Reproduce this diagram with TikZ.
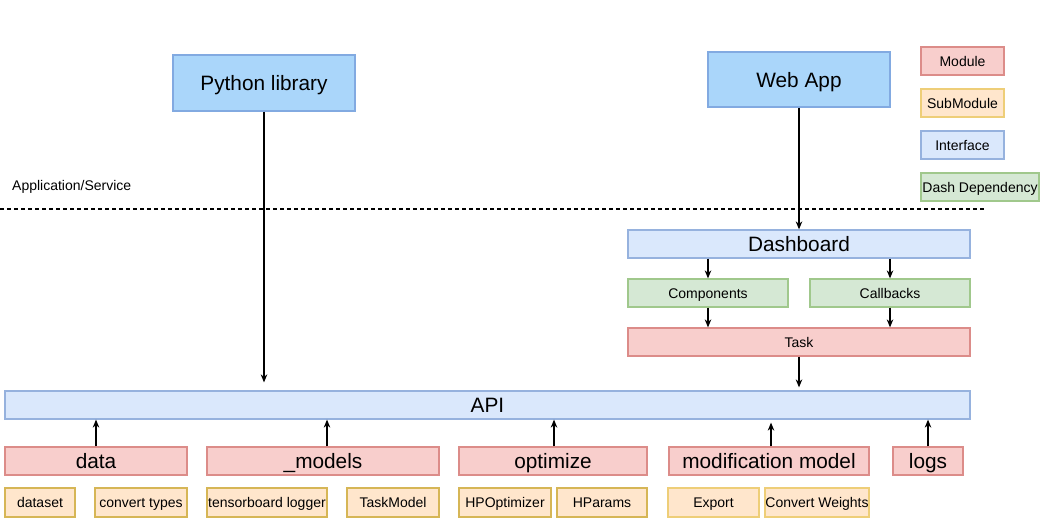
\documentclass[tikz,border=0pt]{standalone}
\usepackage{fontspec}
\setmainfont{Liberation Sans}
\usetikzlibrary{arrows.meta}
\definecolor{ifill}{RGB}{218,232,252}
\definecolor{idraw}{RGB}{150,178,222}
\definecolor{mfill}{RGB}{248,206,204}
\definecolor{mdraw}{RGB}{220,140,137}
\definecolor{sfill}{RGB}{255,230,204}
\definecolor{sdraw}{RGB}{214,182,86}
\definecolor{sdrawl}{RGB}{238,206,120}
\definecolor{gfill}{RGB}{213,232,212}
\definecolor{gdraw}{RGB}{160,200,140}
\definecolor{bfill}{RGB}{170,214,250}
\definecolor{bdraw}{RGB}{130,170,225}
\tikzset{
  box/.style={rectangle, inner sep=0pt, line width=1.2pt, text=black},
  big/.style={font=\fontsize{20.8}{24}\selectfont, text height=20pt, text depth=4.6pt},
  small/.style={font=\fontsize{14}{16}\selectfont, text height=13pt, text depth=3pt},
  app/.style={box, big, fill=bfill, draw=bdraw},
  iface/.style={box, fill=ifill, draw=idraw},
  modu/.style={box, fill=mfill, draw=mdraw},
  subm/.style={box, small, fill=sfill, draw=sdraw, minimum height=29pt},
  dashdep/.style={box, small, fill=gfill, draw=gdraw},
  conn/.style={line width=1.3pt, -{Stealth[length=8pt,width=6.5pt,inset=2.5pt]}},
}
\begin{document}
\begin{tikzpicture}[x=1pt,y=-1pt]
\useasboundingbox (0,0) rectangle (1048,531);
% top interfaces
\node[app, minimum width=182pt, minimum height=56pt] (py) at (264,83) {Python library};
\node[app, minimum width=182pt, minimum height=55pt] (web) at (799,79.5) {Web App};
% legend
\node[modu, small, minimum width=83pt, minimum height=28pt] (lmod) at (962.5,61) {Module};
\node[subm, draw=sdrawl, minimum width=83pt, minimum height=28pt] (lsub) at (962.5,103) {SubModule};
\node[iface, small, minimum width=83pt, minimum height=28pt] (lint) at (962.5,145) {Interface};
\node[dashdep, minimum width=118pt, minimum height=28pt] (ldash) at (980,187) {Dash Dependency};
% separator
\node[small, anchor=west, inner sep=0pt] (appl) at (12,185) {Application/Service};
\coordinate (sepL) at (0,209);
\coordinate (sepR) at (985,209);
\draw[line width=1.2pt, dash pattern=on 4pt off 3pt] (sepL) -- (sepR);
% dashboard block
\node[iface, big, minimum width=342pt, minimum height=28pt] (dashb) at (799,244) {Dashboard};
\node[dashdep, minimum width=160pt, minimum height=28pt] (comp) at (708,293) {Components};
\node[dashdep, minimum width=160pt, minimum height=28pt] (cb) at (890,293) {Callbacks};
\node[modu, small, minimum width=342pt, minimum height=28pt] (task) at (799,342) {Task};
% API
\node[iface, big, minimum width=965pt, minimum height=28pt] (api) at (487.5,405) {API};
% modules
\node[modu, big, minimum width=182pt, minimum height=28pt] (data) at (96,461) {data};
\node[modu, big, minimum width=232pt, minimum height=28pt] (models) at (323,461) {\_models};
\node[modu, big, minimum width=188pt, minimum height=28pt] (opt) at (553,461) {optimize};
\node[modu, big, minimum width=200pt, minimum height=28pt] (modif) at (769,461) {modification model};
\node[modu, big, minimum width=70pt, minimum height=28pt] (logs) at (928,461) {logs};
% submodules
\node[subm, minimum width=70pt] (dataset) at (40,502.5) {dataset};
\node[subm, minimum width=92pt] (ctypes) at (141,502.5) {convert types};
\node[subm, minimum width=120pt] (tblog) at (267,502.5) {tensorboard logger};
\node[subm, minimum width=92pt] (tmodel) at (393,502.5) {TaskModel};
\node[subm, minimum width=92pt] (hpopt) at (505,502.5) {HPOptimizer};
\node[subm, minimum width=90pt] (hparams) at (602,502.5) {HParams};
\node[subm, draw=sdrawl, minimum width=91pt] (export) at (713.5,502.5) {Export};
\node[subm, draw=sdrawl, minimum width=104pt] (convw) at (817,502.5) {Convert Weights};
% connectors
\draw[conn, shorten >=8pt] (py.south) -- (py.south |- api.north);
\draw[conn] (web.south) -- (dashb.north);
\draw[conn] (dashb.south -| comp.north) -- (comp.north);
\draw[conn] (dashb.south -| cb.north) -- (cb.north);
\draw[conn] (comp.south) -- (comp.south |- task.north);
\draw[conn] (cb.south) -- (cb.south |- task.north);
\draw[conn, shorten >=3pt] (task.south) -- (task.south |- api.north);
\draw[conn] (data.north) -- (data.north |- api.south);
\draw[conn] ([xshift=4pt]models.north) -- ([xshift=4pt]models.north |- api.south);
\draw[conn] ([xshift=1pt]opt.north) -- ([xshift=1pt]opt.north |- api.south);
\draw[conn, shorten >=3pt] ([xshift=2pt]modif.north) -- ([xshift=2pt]modif.north |- api.south);
\draw[conn] (logs.north) -- (logs.north |- api.south);
\end{tikzpicture}
\end{document}
